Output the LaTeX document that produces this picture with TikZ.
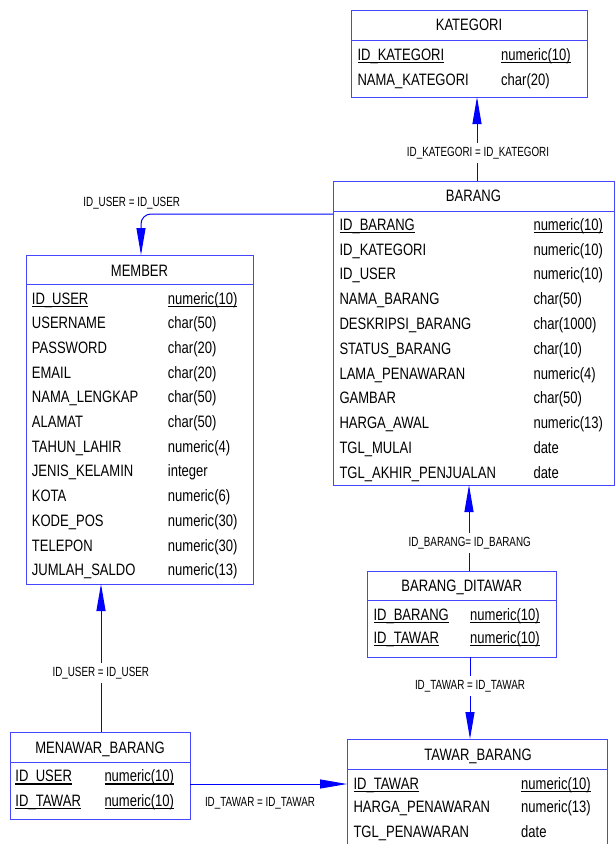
\documentclass[tikz,border=0pt]{standalone}
\usepackage{fontspec}
\setmainfont{Liberation Sans}[FakeStretch=0.79]
\newfontfamily\lblfont{Liberation Sans}[FakeStretch=0.74]
\usetikzlibrary{arrows.meta}
\definecolor{tblblue}{RGB}{70,70,255}
\definecolor{linkblue}{RGB}{0,0,255}
% primary-key text: underlined at a fixed distance below the baseline
\newcommand\pk[1]{\setbox0=\hbox{#1}\rlap{\raisebox{-3pt}{\rule{\wd0}{1.3pt}}}\box0}

\begin{document}
\begin{tikzpicture}[x=1pt,y=-1pt,
  tbl/.style={draw=tblblue, line width=1pt, inner sep=0pt, outer sep=0pt, anchor=north west, rectangle},
  sep/.style={draw=tblblue, line width=1pt},
  cell/.style={inner sep=0pt, anchor=base west, font=\fontsize{16.5}{19}\selectfont},
  ttl/.style={inner sep=0pt, anchor=base, font=\fontsize{16.5}{19}\selectfont},
  link/.style={draw=linkblue, line width=1pt},
  tip/.style={-{Triangle[length=27pt,width=9pt]}},
  lbl/.style={inner xsep=2pt, inner ysep=4pt, anchor=base, fill=white, font=\lblfont\fontsize{13.3}{16}\selectfont}
]
\useasboundingbox (0,0) rectangle (615,844);

% ---------- KATEGORI ----------
\node[tbl, minimum width=236pt, minimum height=87pt] (kategori) at (351,10) {};
\draw[sep] ([yshift=-30pt]kategori.north west) -- ([yshift=-30pt]kategori.north east);
\node[ttl] (kategori-title) at (469,30.7) {KATEGORI};
\node[cell] (kt-n0) at (357.3,60) {\pk{ID\_KATEGORI}};
\node[cell] (kt-t0) at (501,60) {\pk{numeric(10)}};
\node[cell] (kt-n1) at (357.3,85) {NAMA\_KATEGORI};
\node[cell] (kt-t1) at (501,85) {char(20)};

% ---------- BARANG ----------
\node[tbl, minimum width=281pt, minimum height=304pt] (barang) at (333,181) {};
\draw[sep] ([yshift=-30pt]barang.north west) -- ([yshift=-30pt]barang.north east);
\node[ttl] (barang-title) at (473.5,201.7) {BARANG};
\node[cell] (br-n0) at (339.3,230.2) {\pk{ID\_BARANG}};
\node[cell] (br-t0) at (533.3,230.2) {\pk{numeric(10)}};
\foreach \n/\t [count=\i from 1] in {
  ID\_KATEGORI/numeric(10),
  ID\_USER/numeric(10),
  NAMA\_BARANG/char(50),
  DESKRIPSI\_BARANG/char(1000),
  STATUS\_BARANG/char(10),
  LAMA\_PENAWARAN/numeric(4),
  GAMBAR/char(50),
  HARGA\_AWAL/numeric(13),
  TGL\_MULAI/date,
  TGL\_AKHIR\_PENJUALAN/date} {
  \node[cell] (br-n\i) at (339.3,230.2+24.8*\i) {\n};
  \node[cell] (br-t\i) at (533.3,230.2+24.8*\i) {\t};
}

% ---------- MEMBER ----------
\node[tbl, minimum width=227pt, minimum height=329pt] (member) at (26,255) {};
\draw[sep] ([yshift=-29pt]member.north west) -- ([yshift=-29pt]member.north east);
\node[ttl] (member-title) at (139.5,276) {MEMBER};
\node[cell] (mb-n0) at (31.7,304.3) {\pk{ID\_USER}};
\node[cell] (mb-t0) at (167.7,304.3) {\pk{numeric(10)}};
\foreach \n/\t [count=\i from 1] in {
  USERNAME/char(50),
  PASSWORD/char(20),
  EMAIL/char(20),
  NAMA\_LENGKAP/char(50),
  ALAMAT/char(50),
  TAHUN\_LAHIR/numeric(4),
  JENIS\_KELAMIN/integer,
  KOTA/numeric(6),
  KODE\_POS/numeric(30),
  TELEPON/numeric(30),
  JUMLAH\_SALDO/numeric(13)} {
  \node[cell] (mb-n\i) at (31.7,304.3+24.67*\i) {\n};
  \node[cell] (mb-t\i) at (167.7,304.3+24.67*\i) {\t};
}

% ---------- MENAWAR_BARANG ----------
\node[tbl, minimum width=180pt, minimum height=87pt] (menawar) at (10,732) {};
\draw[sep] ([yshift=-30pt]menawar.north west) -- ([yshift=-30pt]menawar.north east);
\node[ttl] (menawar-title) at (100,753.3) {MENAWAR\_BARANG};
\node[cell] (mw-n0) at (15.3,781.7) {\pk{ID\_USER}};
\node[cell] (mw-t0) at (104.3,781.7) {\pk{numeric(10)}};
\node[cell] (mw-n1) at (15.3,806) {\pk{ID\_TAWAR}};
\node[cell] (mw-t1) at (104.3,806) {\pk{numeric(10)}};

% ---------- BARANG_DITAWAR ----------
\node[tbl, minimum width=189pt, minimum height=86pt] (bd) at (367,571) {};
\draw[sep] ([yshift=-29pt]bd.north west) -- ([yshift=-29pt]bd.north east);
\node[ttl] (bd-title) at (461.7,591) {BARANG\_DITAWAR};
\node[cell] (bd-n0) at (373.3,620) {\pk{ID\_BARANG}};
\node[cell] (bd-t0) at (470,620) {\pk{numeric(10)}};
\node[cell] (bd-n1) at (373.3,643.3) {\pk{ID\_TAWAR}};
\node[cell] (bd-t1) at (470,643.3) {\pk{numeric(10)}};

% ---------- TAWAR_BARANG ----------
\node[tbl, minimum width=260pt, minimum height=131pt] (tawar) at (347,739) {};
\draw[sep] ([yshift=-30pt]tawar.north west) -- ([yshift=-30pt]tawar.north east);
\node[ttl] (tawar-title) at (478,760) {TAWAR\_BARANG};
\node[cell] (tw-n0) at (353.3,789.3) {\pk{ID\_TAWAR}};
\node[cell] (tw-t0) at (521,789.3) {\pk{numeric(10)}};
\node[cell] (tw-n1) at (353.3,812.7) {HARGA\_PENAWARAN};
\node[cell] (tw-t1) at (521,812.7) {numeric(13)};
\node[cell] (tw-n2) at (353.3,837.3) {TGL\_PENAWARAN};
\node[cell] (tw-t2) at (521,837.3) {date};

% ---------- references ----------
\coordinate (kx) at (477,0);
\coordinate (ux) at (141,214);
\coordinate (mx) at (101,0);
\coordinate (bx) at (469,0);
\coordinate (tx) at (470,0);
\coordinate (ty) at (0,784);

\draw[link,tip] (barang.north -| kx) -- (kategori.south -| kx);
\draw[link,tip,rounded corners=10pt] (barang.west |- ux) -| (member.north -| ux);
\draw[link,tip] (menawar.north -| mx) -- (member.south -| mx);
\draw[link,tip] (bd.north -| bx) -- (barang.south -| bx);
\draw[link,tip] (bd.south -| tx) -- (tawar.north -| tx);
\draw[link,tip] (menawar.east |- ty) -- (tawar.west |- ty);

\node[lbl] (lbl-kategori) at (478,156.7) {ID\_KATEGORI = ID\_KATEGORI};
\node[lbl] (lbl-user1) at (131.7,206) {ID\_USER = ID\_USER};
\node[lbl] (lbl-user2) at (100.8,676.7) {ID\_USER = ID\_USER};
\node[lbl] (lbl-barang) at (469.7,546) {ID\_BARANG= ID\_BARANG};
\node[lbl] (lbl-tawar1) at (470,689.3) {ID\_TAWAR = ID\_TAWAR};
\node[lbl] (lbl-tawar2) at (260,806) {ID\_TAWAR = ID\_TAWAR};
\end{tikzpicture}
\end{document}
